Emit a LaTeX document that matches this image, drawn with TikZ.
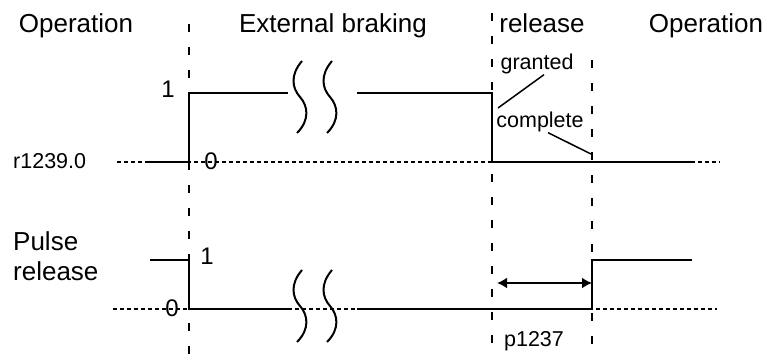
\documentclass[tikz,border=0pt]{standalone}
\usepackage{fontspec}
\setmainfont{Liberation Sans}
\usetikzlibrary{arrows.meta}
\definecolor{ink}{RGB}{0,0,0}

\begin{document}
\begin{tikzpicture}[
  x=1pt,
  y=-1pt,
  line join=miter,
  phase/.style={
    font=\fontsize{26}{30}\selectfont,
    text=ink,
    inner sep=0pt
  },
  label/.style={
    font=\fontsize{21.5}{25}\selectfont,
    text=ink,
    inner sep=0pt
  },
  level/.style={
    font=\fontsize{24}{28}\selectfont,
    text=ink,
    inner sep=0pt
  },
  signal/.style={
    draw=ink,
    line width=2pt
  },
  zeroline/.style={
    draw=ink,
    line width=1.4pt,
    dash pattern=on 4pt off 3pt
  },
  boundary/.style={
    draw=ink,
    line width=2.2pt,
    dash pattern=on 8pt off 15pt
  },
  leader/.style={
    draw=ink,
    line width=1.5pt
  },
  timearrow/.style={
    {Latex[length=10pt,width=11pt]}-{Latex[length=10pt,width=11pt]},
    draw=ink,
    line width=2pt
  }
]

% Page background, also the bounding box.
\fill[white] (0,0) rectangle (773,354);

% ---------------------------------------------------------------------------
% Phase headings and phase boundaries.
% ---------------------------------------------------------------------------
\node[phase,anchor=base] (opleft) at (76,33) {Operation};
\node[phase,anchor=base] (extbrake) at (333,33) {External braking};
\node[phase,anchor=base] (release) at (542,33) {release};
\node[phase,anchor=base] (opright) at (706,33) {Operation};

\draw[boundary] (189,24) -- (189,354);
\draw[boundary] (492,13) -- (492,354);
\draw[boundary] (592,60) -- (592,354);

% ---------------------------------------------------------------------------
% Signal r1239.0.
% ---------------------------------------------------------------------------
\node[label,anchor=west] (rsig) at (13,161) {r1239.0};
\node[level] (rone) at (168,89) {1};
\node[level] (rzero) at (211,161) {0};

\draw[zeroline] (117,162) -- (720,162);
\draw[signal] (148,162) -- (189,162) -- (189,93) -- (288,93);
\draw[signal] (357,93) -- (492,93) -- (492,162) -- (692,162);

\node[label,anchor=base] (granted) at (537,70) {granted};
\node[label,anchor=base] (complete) at (540,128) {complete};
\coordinate (grantedtip) at (498,108);
\coordinate (completetip) at (591,154);
\draw[leader] ([xshift=7pt]granted.south) -- (grantedtip);
\draw[leader] ([xshift=8pt]complete.south) -- (completetip);

% ---------------------------------------------------------------------------
% Signal pulse release.
% ---------------------------------------------------------------------------
\node[phase,anchor=north west,align=left] (pulse) at (13,231)
  {Pulse\\release};
\node[level] (pone) at (207,256) {1};
\node[level] (pzero) at (172,308) {0};

\draw[zeroline] (113,309) -- (717,309);
\draw[signal] (150,260) -- (189,260) -- (189,309) -- (288,309);
\draw[signal] (357,309) -- (592,309) -- (592,260) -- (692,260);

% Delay time p1237.
\coordinate (delaystart) at (497,283);
\coordinate (delayend) at (592,283);
\draw[timearrow] (delaystart) -- (delayend);
\node[label,anchor=base] (delay) at (534,346) {p1237};

% Time breaks in both signals.
\foreach \bx/\by in {0/0,30/0,0/209,30/209} {
  \draw[signal,shift={(\bx,\by)}]
    (302,61) .. controls (290,75) and (292,88) .. (300,97)
    .. controls (308,106) and (310,120) .. (297,133);
}

\end{tikzpicture}
\end{document}
